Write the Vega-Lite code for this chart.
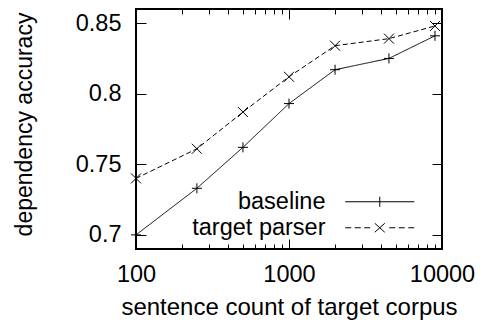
{
  "$schema": "https://vega.github.io/schema/vega-lite/v6.json",
  "width": 306,
  "height": 240,
  "autosize": {"type": "none"},
  "padding": {"left": 136, "top": 9, "right": 42, "bottom": 71},
  "background": "white",
  "config": {
    "font": "Liberation Sans",
    "view": {"stroke": "black", "strokeWidth": 2},
    "axis": {
      "labelFont": "Liberation Sans",
      "titleFont": "Liberation Sans",
      "labelFontSize": 23.5,
      "titleFontSize": 23.5,
      "labelColor": "black",
      "titleColor": "black",
      "titleFontWeight": "normal",
      "domain": false,
      "labelFlush": false,
      "tickColor": "black",
      "tickWidth": 1,
      "grid": false
    },
    "legend": {"labelFont": "Liberation Sans", "labelFontSize": 23.5, "labelColor": "black"}
  },
  "data": {
    "values": [
      {"n": 100, "acc": 0.700, "series": "baseline"},
      {"n": 250, "acc": 0.733, "series": "baseline"},
      {"n": 500, "acc": 0.762, "series": "baseline"},
      {"n": 1000, "acc": 0.793, "series": "baseline"},
      {"n": 2000, "acc": 0.817, "series": "baseline"},
      {"n": 4500, "acc": 0.825, "series": "baseline"},
      {"n": 9000, "acc": 0.841, "series": "baseline"},
      {"n": 100, "acc": 0.740, "series": "target parser"},
      {"n": 250, "acc": 0.761, "series": "target parser"},
      {"n": 500, "acc": 0.787, "series": "target parser"},
      {"n": 1000, "acc": 0.812, "series": "target parser"},
      {"n": 2000, "acc": 0.834, "series": "target parser"},
      {"n": 4500, "acc": 0.839, "series": "target parser"},
      {"n": 9000, "acc": 0.848, "series": "target parser"}
    ]
  },
  "layer": [
    {
      "mark": {"type": "line", "color": "black", "strokeWidth": 1},
      "encoding": {
        "x": {
          "field": "n", "type": "quantitative",
          "scale": {"type": "log", "domain": [100, 10000], "nice": false},
          "axis": {
            "orient": "bottom",
            "values": [100, 200, 300, 400, 500, 600, 700, 800, 900, 1000, 2000, 3000, 4000, 5000, 6000, 7000, 8000, 9000, 10000],
            "format": "d",
            "labelExpr": "datum.value == 100 || datum.value == 1000 || datum.value == 10000 ? datum.label : ''",
            "tickSize": {"condition": {"test": "datum.value == 100 || datum.value == 1000 || datum.value == 10000", "value": -10}, "value": -5},
            "labelPadding": 23,
            "title": "sentence count of target corpus",
            "titleFontSize": 24,
            "titlePadding": 10
          }
        },
        "y": {
          "field": "acc", "type": "quantitative",
          "scale": {"domain": [0.69, 0.86], "nice": false, "zero": false},
          "axis": {
            "orient": "left",
            "values": [0.7, 0.75, 0.8, 0.85],
            "format": ".2~f",
            "tickSize": -10,
            "labelPadding": 25,
            "title": "dependency accuracy",
            "titleFontSize": 23,
            "titlePadding": 39,
            "titleY": 115
          }
        },
        "strokeDash": {
          "field": "series", "type": "nominal",
          "scale": {"domain": ["baseline", "target parser"], "range": [[1, 0], [5, 3]]},
          "legend": null
        }
      }
    },
    {
      "mark": {"type": "point", "filled": false, "color": "black", "strokeWidth": 1, "size": 100, "opacity": 1},
      "encoding": {
        "x": {
          "field": "n", "type": "quantitative",
          "scale": {"type": "log", "domain": [100, 10000], "nice": false},
          "axis": {
            "orient": "top",
            "values": [100, 200, 300, 400, 500, 600, 700, 800, 900, 1000, 2000, 3000, 4000, 5000, 6000, 7000, 8000, 9000, 10000],
            "labels": false,
            "tickSize": {"condition": {"test": "datum.value == 100 || datum.value == 1000 || datum.value == 10000", "value": -10}, "value": -5},
            "title": null
          }
        },
        "y": {
          "field": "acc", "type": "quantitative",
          "scale": {"domain": [0.69, 0.86], "nice": false, "zero": false},
          "axis": {
            "orient": "right",
            "values": [0.7, 0.75, 0.8, 0.85],
            "labels": false,
            "tickSize": -10,
            "title": null
          }
        },
        "shape": {
          "field": "series", "type": "nominal",
          "scale": {"domain": ["baseline", "target parser"], "range": ["M-1,0H1M0,-1V1", "M-1,-1L1,1M-1,1L1,-1"]},
          "legend": null
        }
      }
    },
    {
      "mark": {"type": "point", "filled": false, "color": "black", "strokeWidth": 1, "size": 100, "opacity": 0},
      "encoding": {
        "x": {"field": "n", "type": "quantitative", "scale": {"type": "log", "domain": [100, 10000], "nice": false}, "axis": null},
        "y": {"field": "acc", "type": "quantitative", "scale": {"domain": [0.69, 0.86], "nice": false, "zero": false}, "axis": null},
        "shape": {
          "field": "series", "type": "nominal",
          "scale": {
            "domain": ["baseline", "target parser"],
            "range": [
              "M-6.9,0H6.9M0,-1V1",
              "M-6.9,0H-5.7M-5,0H-3.8M-3.1,0H-1.9M1.9,0H3.1M3.8,0H5M5.7,0H6.9M-1,-0.9L1,0.9M-1,0.9L1,-0.9"
            ]
          },
          "legend": {
            "orient": "none",
            "legendX": 232,
            "legendY": 181,
            "title": null,
            "symbolOpacity": 1,
            "symbolSize": 100,
            "symbolStrokeColor": "black",
            "symbolStrokeWidth": 1,
            "symbolFillColor": "transparent",
            "labelAlign": "right",
            "labelOffset": -66,
            "rowPadding": 1
          }
        }
      }
    }
  ],
  "resolve": {
    "axis": {"x": "independent", "y": "independent"},
    "scale": {"shape": "independent"},
    "legend": {"shape": "independent"}
  }
}
